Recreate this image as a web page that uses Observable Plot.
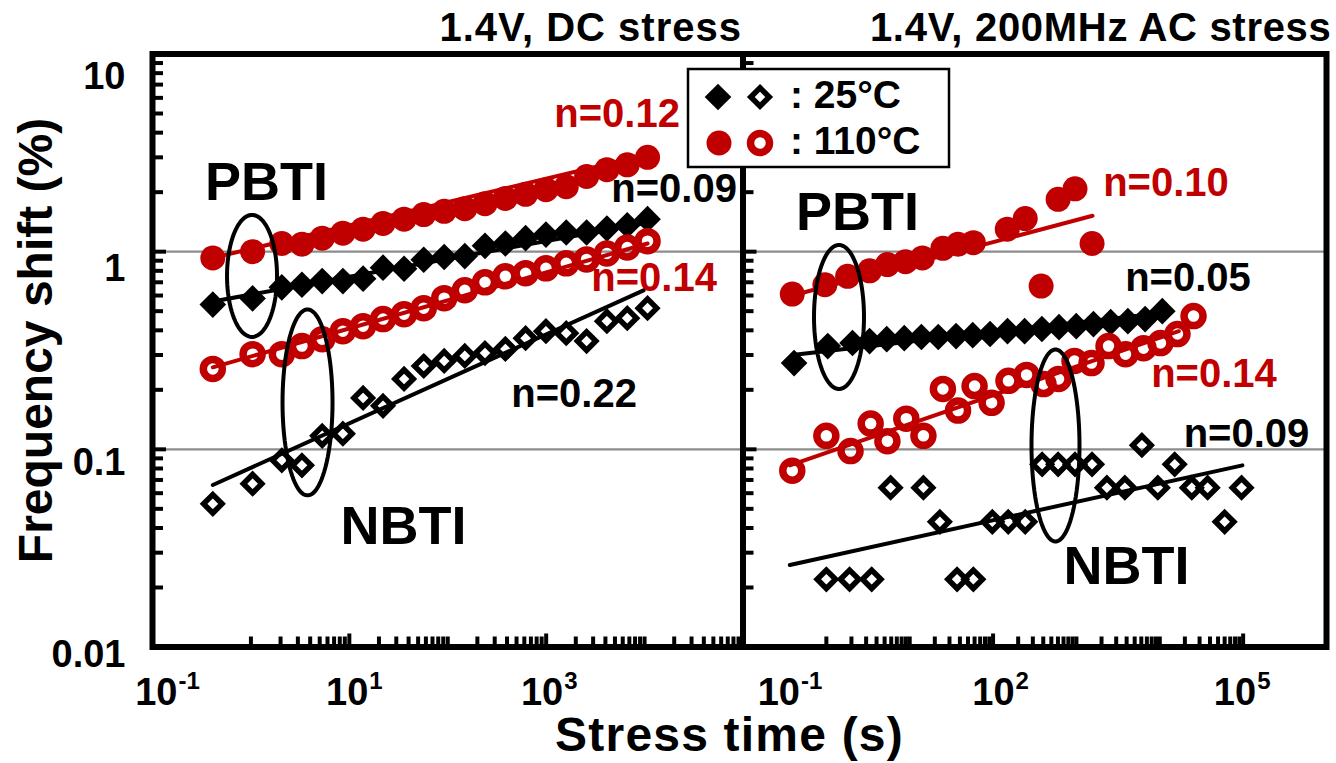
<!DOCTYPE html>
<html><head><meta charset="utf-8">
<script src="https://cdn.jsdelivr.net/npm/d3@7"></script>
<script src="https://cdn.jsdelivr.net/npm/@observablehq/plot@0.6"></script>
<style>
body{margin:0;background:#fff;}
#chart{position:relative;width:1336px;height:763px;overflow:hidden;background:#fff;}
#chart svg{position:absolute;left:0;top:0;background:transparent !important;}
</style></head><body><div id="chart"></div>
<script>
const FONT = '"Liberation Sans", Arial, Helvetica, sans-serif';
const RED = "#C00000";

// ---------- DATA ----------
// stress times (s), DC panel (shared by all four DC series)
const tDC = [0.41, 1.04, 2.06, 3.3, 5.3, 8.6, 13.8, 22, 36, 57, 92, 149, 239, 385, 618, 995, 1600, 2576, 4141, 6668, 10720];
// DC stress: frequency shift (%)
const dcPbti110 = [0.93, 1.00, 1.10, 1.09, 1.17, 1.24, 1.30, 1.39, 1.46, 1.54, 1.60, 1.65, 1.75, 1.86, 1.95, 2.06, 2.13, 2.40, 2.60, 2.75, 3.0];
const dcPbti25  = [0.54, 0.58, 0.66, 0.68, 0.71, 0.71, 0.73, 0.83, 0.82, 0.91, 0.94, 0.95, 1.07, 1.10, 1.17, 1.22, 1.25, 1.25, 1.31, 1.36, 1.46];
const dcNbti110 = [0.255, 0.303, 0.303, 0.333, 0.361, 0.396, 0.42, 0.456, 0.483, 0.518, 0.582, 0.638, 0.70, 0.75, 0.778, 0.824, 0.873, 0.914, 0.98, 1.05, 1.13];
const dcNbti25  = [0.053, 0.067, 0.088, 0.083, 0.117, 0.12, 0.182, 0.166, 0.227, 0.264, 0.28, 0.297, 0.307, 0.322, 0.365, 0.396, 0.387, 0.353, 0.445, 0.461, 0.518];

// AC stress (200 MHz)
const tAcPbti110 = [0.39, 0.96, 1.8, 3.3, 5.4, 8.9, 14.2, 25, 38, 58, 148, 243, 377, 603, 962, 1540];
const acPbti110  = [0.61, 0.68, 0.75, 0.80, 0.86, 0.89, 0.93, 1.04, 1.09, 1.11, 1.30, 1.47, 0.67, 1.84, 2.08, 1.10];
const tAcPbti25  = [0.41, 1.04, 2.06, 3.3, 5.3, 8.6, 13.8, 22, 36, 57, 92, 149, 239, 385, 618, 995, 1600, 2576, 4141, 6668, 10720];
const acPbti25   = [0.273, 0.333, 0.345, 0.353, 0.361, 0.365, 0.37, 0.37, 0.374, 0.378, 0.383, 0.396, 0.396, 0.406, 0.415, 0.42, 0.43, 0.44, 0.445, 0.456, 0.50];
const tAcNbti110 = [0.39, 1.0, 1.95, 3.4, 5.4, 9.1, 14.6, 25, 38, 60, 96, 153, 252, 403, 610, 948, 1517, 2427, 3882, 6383, 10200, 16300, 25400];
const acNbti110  = [0.078, 0.117, 0.098, 0.135, 0.110, 0.143, 0.117, 0.202, 0.157, 0.209, 0.172, 0.222, 0.238, 0.214, 0.227, 0.28, 0.273, 0.333, 0.303, 0.325, 0.345, 0.383, 0.472];
const tAcNbti25  = [1.0, 1.9, 3.5, 5.9, 14.6, 23, 37, 58, 98, 152, 243, 388, 603, 962, 1540, 2320, 3810, 6100, 9470, 15100, 24200, 37500, 60000, 95700];
const acNbti25   = [0.022, 0.022, 0.022, 0.064, 0.064, 0.043, 0.022, 0.022, 0.043, 0.043, 0.043, 0.084, 0.084, 0.084, 0.084, 0.064, 0.064, 0.105, 0.064, 0.084, 0.064, 0.064, 0.043, 0.064];

// power-law fit lines (end points)
const fitDcPbti110 = [[0.41, 0.93], [10720, 3.1]];
const fitDcPbti25  = [[0.41, 0.56], [10720, 1.40]];
const fitDcNbti110 = [[0.41, 0.26], [10720, 1.10]];
const fitDcNbti25  = [[0.41, 0.066], [9770, 0.637]];
const fitAcPbti110 = [[0.39, 0.60], [1560, 1.52]];
const fitAcPbti25  = [[0.39, 0.30], [10720, 0.49]];
const fitAcNbti110 = [[0.365, 0.083], [16900, 0.396]];
const fitAcNbti25  = [[0.365, 0.026], [98000, 0.083]];

// annotations (in data coordinates)
const dcRedLabels   = [{t: 5254, v: 4.94, s: "n=0.12"}, {t: 12490, v: 0.736, s: "n=0.14"}];
const dcBlackLabels = [{t: 19940, v: 2.064, s: "n=0.09"}, {t: 1921, v: 0.1895, s: "n=0.22"}];
const dcBigLabels   = [{t: 1.44, v: 2.226, s: "PBTI"}, {t: 35.6, v: 0.0405, s: "NBTI"}];
const acRedLabels   = [{t: 11870, v: 2.226, s: "n=0.10"}, {t: 44690, v: 0.2393, s: "n=0.14"}];
const acBlackLabels = [{t: 21790, v: 0.736, s: "n=0.05"}, {t: 109700, v: 0.1197, s: "n=0.09"}];
const acBigLabels   = [{t: 2.363, v: 1.569, s: "PBTI"}, {t: 3987, v: 0.02557, s: "NBTI"}];
const dcEllipses = [{t: 1.026, v: 0.7537, rx: 25, ry: 61}, {t: 3.76, v: 0.1727, rx: 25, ry: 93}];
const acEllipses = [{t: 1.418, v: 0.4674, rx: 25, ry: 72}, {t: 560.9, v: 0.1046, rx: 24, ry: 96}];

// axes
const yTickValues = [0.01, 0.1, 1, 10];
const yTickLabels = ["0.01", "0.1", "1", "10"];
const dcXTickValues = [0.1, 10, 1000];
const dcXTickExp = ["-1", "1", "3"];
const acXTickValues = [0.1, 100, 100000];
const acXTickExp = ["-1", "2", "5"];
const titles = ["1.4V, DC stress", "1.4V, 200MHz AC stress"];
const xTitle = "Stress time (s)";
const yTitle = "Frequency shift (%)";
const legendLabels = [": 25°C", ": 110°C"];

// ---------- helpers ----------
const rec = (ts, vs) => ts.map((t, i) => ({t, v: vs[i]}));
const W = 1336, H = 763;
const TOP = 53.5, BOT = 646.5, X0 = 152, XD = 742.5, XR = 1326;
const FH = BOT - TOP;
const minorDecades = (k0, k1, exclude) => {
  const out = [];
  for (let k = k0; k <= k1; k++) for (let m = 1; m <= 9; m++) {
    const v = +(m * Math.pow(10, k)).toPrecision(6);
    if (!exclude.includes(v)) out.push(v);
  }
  return out;
};
const yMinor = minorDecades(-2, 0, [0.01, 0.1, 1, 10]);
const ellipseSymbol = (rx, ry) => ({
  draw(ctx) {
    const n = 90;
    for (let i = 0; i <= n; i++) {
      const a = 2 * Math.PI * i / n, x = rx * Math.cos(a), y = ry * Math.sin(a);
      if (i === 0) ctx.moveTo(x, y); else ctx.lineTo(x, y);
    }
    ctx.closePath();
  }
});
const txt = {fontFamily: FONT, fontWeight: "bold", lineAnchor: "middle"};
const yLabelDy = [7.5, 13, 17, 22.5];

function panel({marginLeft, marginRight, xDomain, xMajor, xMinor, xTickValues, xTickExp, xTickDx,
                series, fits, redLabels, blackLabels, bigLabels, ellipses, title, titleDx, extra}) {
  const FW = (W - marginRight) - marginLeft;
  const marks = [
    Plot.ruleY([0.1, 1], {stroke: "#8c8c8c", strokeWidth: 2.2}),
    // data markers
    Plot.dot(rec(series.p110[0], series.p110[1]), {x: "t", y: "v", r: 12.5, fill: RED}),
    Plot.dot(rec(series.p25[0], series.p25[1]), {x: "t", y: "v", symbol: "diamond2", r: 12, fill: "black"}),
    Plot.dot(rec(series.n110[0], series.n110[1]), {x: "t", y: "v", r: 9.5, fill: "none", stroke: RED, strokeWidth: 7.5}),
    Plot.dot(rec(series.n25[0], series.n25[1]), {x: "t", y: "v", symbol: "diamond2", r: 8.3, fill: "none", stroke: "black", strokeWidth: 5.5}),
    // fit lines
    Plot.line(fits.p110, {x: d => d[0], y: d => d[1], stroke: RED, strokeWidth: 4}),
    Plot.line(fits.p25, {x: d => d[0], y: d => d[1], stroke: "black", strokeWidth: 4}),
    Plot.line(fits.n110, {x: d => d[0], y: d => d[1], stroke: RED, strokeWidth: 4}),
    Plot.line(fits.n25, {x: d => d[0], y: d => d[1], stroke: "black", strokeWidth: 4}),
    // ellipses
    ...ellipses.map(e => Plot.dot([e], {x: "t", y: "v", r: 1, symbol: ellipseSymbol(e.rx, e.ry), fill: "none", stroke: "black", strokeWidth: 4})),
    // ticks (inward)
    Plot.tickY(yTickValues, {y: d => d, insetRight: FW - 14, stroke: "black", strokeWidth: 4}),
    Plot.tickY(yMinor, {y: d => d, insetRight: FW - 11, stroke: "black", strokeWidth: 4}),
    Plot.tickX(xMajor, {x: d => d, insetTop: FH - 13, stroke: "black", strokeWidth: 4}),
    Plot.tickX(xMinor, {x: d => d, insetTop: FH - 10, stroke: "black", strokeWidth: 4}),
    Plot.frame({stroke: "black", strokeWidth: 6}),
    // x tick labels 10^k
    ...xTickValues.map((v, i) => Plot.text([v], {x: d => d, frameAnchor: "bottom", text: () => "10", textAnchor: "end", dx: xTickDx[i], dy: 46, fontSize: 38, ...txt})),
    ...xTickValues.map((v, i) => Plot.text([v], {x: d => d, frameAnchor: "bottom", text: () => xTickExp[i], textAnchor: "start", dx: xTickDx[i] + 1, dy: 34, fontSize: 24, ...txt})),
    // annotations
    Plot.text(redLabels, {x: "t", y: "v", text: "s", fill: RED, fontSize: 40, textAnchor: "middle", ...txt}),
    Plot.text(blackLabels, {x: "t", y: "v", text: "s", fill: "black", fontSize: 40, textAnchor: "middle", ...txt}),
    Plot.text(bigLabels, {x: "t", y: "v", text: "s", fill: "black", fontSize: 54, textAnchor: "middle", ...txt}),
    Plot.text([title], {frameAnchor: "top-right", textAnchor: "end", dx: titleDx, dy: -26, fontSize: 40, ...txt}),
    ...extra
  ];
  return Plot.plot({
    width: W, height: H,
    marginLeft, marginRight, marginTop: TOP, marginBottom: H - BOT,
    x: {type: "log", domain: xDomain, axis: null},
    y: {type: "log", domain: [0.01, 10], axis: null},
    style: {background: "transparent", overflow: "visible", fontFamily: FONT},
    marks
  });
}

const left = panel({
  marginLeft: X0, marginRight: W - XD, xDomain: [0.1, 1e5],
  xMajor: [0.1, 10, 1000, 1e5], xMinor: minorDecades(0, 4, [10, 1000, 1e5]),
  xTickValues: dcXTickValues, xTickExp: dcXTickExp, xTickDx: [25, 19, 17],
  series: {p110: [tDC, dcPbti110], p25: [tDC, dcPbti25], n110: [tDC, dcNbti110], n25: [tDC, dcNbti25]},
  fits: {p110: fitDcPbti110, p25: fitDcPbti25, n110: fitDcNbti110, n25: fitDcNbti25},
  redLabels: dcRedLabels, blackLabels: dcBlackLabels, bigLabels: dcBigLabels, ellipses: dcEllipses,
  title: titles[0], titleDx: -1,
  extra: [
    ...yTickValues.map((v, i) => Plot.text([v], {y: d => d, frameAnchor: "left", text: () => yTickLabels[i], textAnchor: "end", dx: -27, dy: yLabelDy[i], fontSize: 38, ...txt})),
    Plot.text([yTitle], {frameAnchor: "left", textAnchor: "middle", rotate: -90, dx: -115.4, dy: -10, fontSize: 48, ...txt}),
    Plot.text([xTitle], {frameAnchor: "bottom-left", textAnchor: "middle", dx: 577, dy: 89, fontSize: 48, ...txt})
  ]
});

const right = panel({
  marginLeft: XD, marginRight: W - XR, xDomain: [0.1, 1e6],
  xMajor: [0.1, 100, 1e5], xMinor: minorDecades(0, 4, [100, 1e5]),
  xTickValues: acXTickValues, xTickExp: acXTickExp, xTickDx: [57, 21.5, 13],
  series: {p110: [tAcPbti110, acPbti110], p25: [tAcPbti25, acPbti25], n110: [tAcNbti110, acNbti110], n25: [tAcNbti25, acNbti25]},
  fits: {p110: fitAcPbti110, p25: fitAcPbti25, n110: fitAcNbti110, n25: fitAcNbti25},
  redLabels: acRedLabels, blackLabels: acBlackLabels, bigLabels: acBigLabels, ellipses: acEllipses,
  title: titles[1], titleDx: 5,
  extra: []
});

const chart = document.getElementById("chart");
chart.appendChild(left);
chart.appendChild(right);

// slightly wider title lettering, as in the reference
d3.select(left).selectAll("text").filter(function() { return this.textContent === titles[0]; }).attr("letter-spacing", 1);
d3.select(right).selectAll("text").filter(function() { return this.textContent === titles[1]; }).attr("letter-spacing", 0.7);
d3.select(left).selectAll("text").filter(function() { return this.textContent === xTitle; }).attr("letter-spacing", 1.2);

// legend box
const lg = d3.select(chart).append("svg").attr("width", W).attr("height", H)
  .style("font-family", FONT).style("font-weight", "bold");
lg.append("rect").attr("x", 688).attr("y", 69).attr("width", 261).attr("height", 98)
  .attr("fill", "white").attr("stroke", "black").attr("stroke-width", 2.5);
const dia = d3.symbol(d3.symbolDiamond2);
lg.append("path").attr("d", dia.size(Math.PI * 12 * 12)()).attr("transform", "translate(718,97)").attr("fill", "black");
lg.append("path").attr("d", dia.size(Math.PI * 8.3 * 8.3)()).attr("transform", "translate(760,97)").attr("fill", "none").attr("stroke", "black").attr("stroke-width", 5.5);
lg.append("circle").attr("cx", 719).attr("cy", 143).attr("r", 12.5).attr("fill", RED);
lg.append("circle").attr("cx", 760).attr("cy", 143).attr("r", 9.5).attr("fill", "none").attr("stroke", RED).attr("stroke-width", 7.5);
lg.append("text").attr("x", 790).attr("y", 108).attr("font-size", 39).text(legendLabels[0]);
lg.append("text").attr("x", 790).attr("y", 154).attr("font-size", 39).text(legendLabels[1]);
</script>
</body></html>
